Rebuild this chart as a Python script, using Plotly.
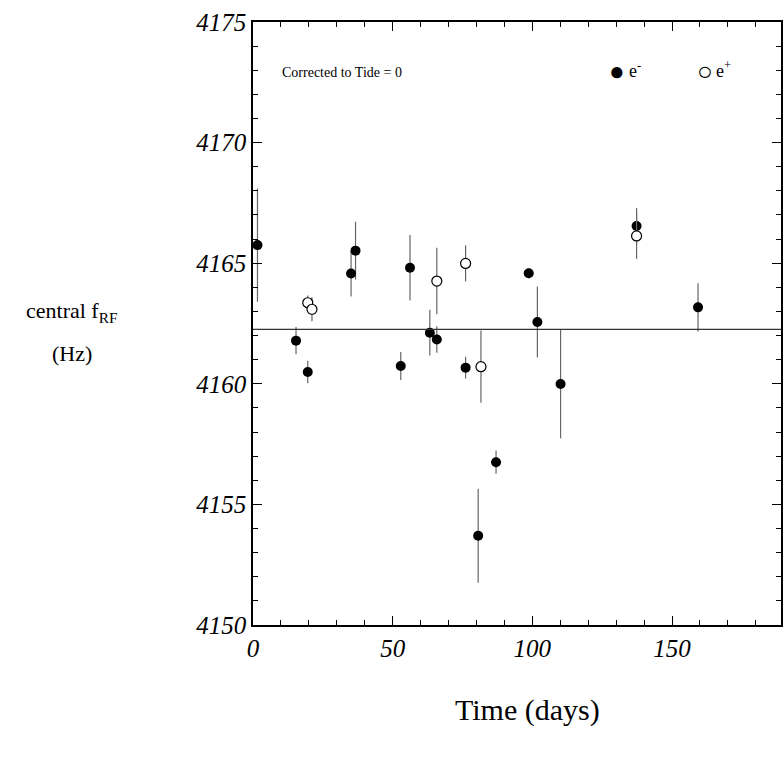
# %% Import
import plotly.graph_objects as go

# %% Data
e_minus_t = [1.6, 15.4, 19.6, 35.1, 36.7, 52.9, 56.2, 63.3, 65.8, 76.1, 80.6, 87.0, 98.7, 101.8, 110.1, 137.3, 159.3]
e_minus_f = [4165.75, 4161.79, 4160.49, 4164.57, 4165.52, 4160.74, 4164.81, 4162.12, 4161.84, 4160.67,
             4153.70, 4156.75, 4164.58, 4162.56, 4159.99, 4166.54, 4163.17]
e_minus_err = [2.35, 0.57, 0.47, 0.95, 1.2, 0.58, 1.36, 0.95, 0.55, 0.45, 1.95, 0.48, 0.2, 1.47, 2.25, 0.75, 1.0]

e_plus_t = [19.6, 21.1, 65.8, 76.1, 81.6, 137.3]
e_plus_f = [4163.36, 4163.09, 4164.26, 4164.99, 4160.71, 4166.13]
e_plus_err = [0.3, 0.5, 1.38, 0.75, 1.5, 0.95]

mean_f = 4162.26

# %% Plot
SERIF = "Liberation Serif, Times New Roman, serif"
W, H = 784, 758
L, R, T, B = 253, 3, 22, 133

fig = go.Figure()
fig.add_hline(y=mean_f, line=dict(color="#333", width=1.3))
fig.add_trace(go.Scatter(
    x=e_minus_t, y=e_minus_f, mode="markers",
    marker=dict(color="black", size=10),
    error_y=dict(type="data", array=e_minus_err, color="#666", thickness=1.2, width=0),
))
fig.add_trace(go.Scatter(
    x=e_plus_t, y=e_plus_f, mode="markers",
    marker=dict(color="white", size=10, line=dict(color="black", width=1.2)),
    error_y=dict(type="data", array=e_plus_err, color="#666", thickness=1.2, width=0),
))

axis = dict(showgrid=False, zeroline=False, showline=True, linecolor="black", linewidth=1.5,
            mirror="allticks", ticks="inside", ticklen=9, tickcolor="black", automargin=False,
            tickfont=dict(family=SERIF, size=25, color="black"))
fig.update_xaxes(range=[0, 189], tickvals=[0, 50, 100, 150], ticktext=["<i>0</i>", "<i>50</i>", "<i>100</i>", "<i>150</i>"],
                 minor=dict(dtick=10, ticks="inside", ticklen=5, tickcolor="black"), **axis)
fig.update_yaxes(range=[4150, 4175], tickvals=[4150, 4155, 4160, 4165, 4170, 4175],
                 ticktext=[f"<i>{v}</i>" for v in [4150, 4155, 4160, 4165, 4170, 4175]],
                 minor=dict(dtick=1, ticks="inside", ticklen=5, tickcolor="black"), **axis)

ann = [
    dict(x=280, y=73, text="Corrected to Tide = 0", size=14, anchor="left"),
    dict(x=617, y=72, text="●", size=26, anchor="center"),
    dict(x=627, y=70, text="e<sup>-</sup>", size=18, anchor="left"),
    dict(x=705, y=72, text="○", size=26, anchor="center"),
    dict(x=714, y=70, text="e<sup>+</sup>", size=18, anchor="left"),
    dict(x=527, y=710, text="Time (days)", size=30, anchor="center"),
    dict(x=72, y=312, text="central f<sub>RF</sub>", size=22, anchor="center"),
    dict(x=72, y=354, text="(Hz)", size=22, anchor="center"),
]
for a in ann:
    fig.add_annotation(x=(a["x"] - L) / (W - L - R), y=(H - a["y"] - B) / (H - T - B),
                       xref="paper", yref="paper", text=a["text"], showarrow=False,
                       xanchor=a["anchor"], yanchor="middle",
                       font=dict(family=SERIF, size=a["size"], color="black"))

fig.update_layout(width=W, height=H, showlegend=False, plot_bgcolor="white", paper_bgcolor="white",
                  margin=dict(l=L, r=R, t=T, b=B, autoexpand=False))

fig.write_html("out.html", config={"displayModeBar": False},
               post_script="document.body.style.margin='0';document.body.style.overflow='hidden';")
